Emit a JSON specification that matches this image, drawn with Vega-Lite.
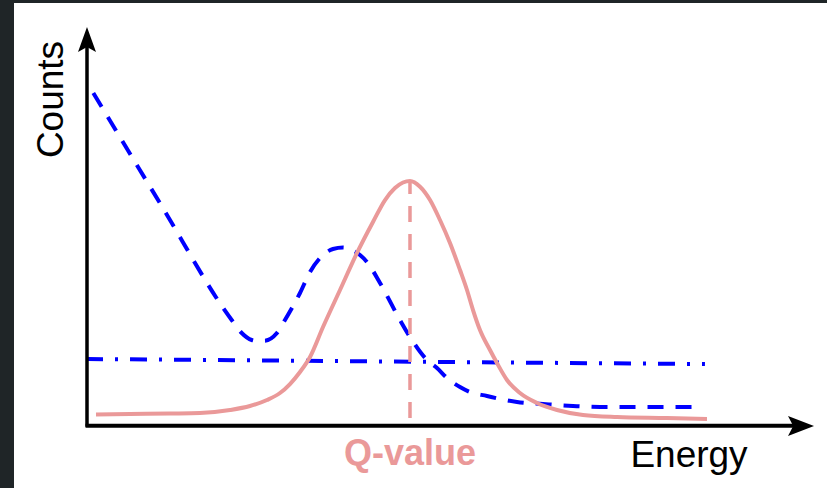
{
  "$schema": "https://vega.github.io/schema/vega-lite/v6.json",
  "width": 827,
  "height": 488,
  "autosize": {"type": "fit", "contains": "padding"},
  "padding": {"left": 14, "top": 3, "right": 0, "bottom": 0},
  "background": "#1f2527",
  "config": {"view": {"stroke": null, "fill": "white"}},
  "datasets": {
    "signal": [
      {"energy": 1.24, "counts": 2.64}, {"energy": 5.92, "counts": 2.76}, {"energy": 11.43, "counts": 2.89},
      {"energy": 15.56, "counts": 3.02}, {"energy": 19.7, "counts": 3.77}, {"energy": 22.45, "counts": 4.77},
      {"energy": 24.79, "counts": 6.28}, {"energy": 26.58, "counts": 8.04}, {"energy": 27.96, "counts": 10.3},
      {"energy": 29.34, "counts": 13.32}, {"energy": 30.72, "counts": 17.09}, {"energy": 32.51, "counts": 24.62},
      {"energy": 34.85, "counts": 33.92}, {"energy": 37.19, "counts": 43.22}, {"energy": 39.39, "counts": 51.01},
      {"energy": 41.05, "counts": 56.53}, {"energy": 42.42, "counts": 59.55}, {"energy": 43.53, "counts": 60.93},
      {"energy": 44.49, "counts": 61.31}, {"energy": 45.87, "counts": 59.87}, {"energy": 47.25, "counts": 56.53},
      {"energy": 48.62, "counts": 51.51}, {"energy": 50.0, "counts": 45.73}, {"energy": 51.38, "counts": 38.94},
      {"energy": 52.34, "counts": 33.92}, {"energy": 53.17, "counts": 28.89}, {"energy": 54.13, "counts": 23.87},
      {"energy": 55.51, "counts": 18.84}, {"energy": 56.47, "counts": 15.58}, {"energy": 57.85, "counts": 11.31},
      {"energy": 59.64, "counts": 8.04}, {"energy": 61.98, "counts": 5.53}, {"energy": 64.74, "counts": 3.77},
      {"energy": 68.32, "counts": 2.51}, {"energy": 73.0, "counts": 2.01}, {"energy": 79.89, "counts": 1.76},
      {"energy": 85.4, "counts": 1.51}
    ],
    "background": [
      {"energy": 0.87, "counts": 83.42}, {"energy": 10.0, "counts": 55.9}, {"energy": 19.93, "counts": 26.38},
      {"energy": 21.31, "counts": 23.12}, {"energy": 22.69, "counts": 21.36}, {"energy": 23.55, "counts": 21.11},
      {"energy": 24.52, "counts": 21.18}, {"energy": 26.13, "counts": 23.04}, {"energy": 27.27, "counts": 26.38},
      {"energy": 29.34, "counts": 33.17}, {"energy": 30.72, "counts": 38.44}, {"energy": 32.51, "counts": 42.71},
      {"energy": 33.88, "counts": 44.22}, {"energy": 35.26, "counts": 44.6}, {"energy": 36.5, "counts": 43.97},
      {"energy": 37.6, "counts": 42.71}, {"energy": 38.57, "counts": 40.95}, {"energy": 40.36, "counts": 35.68},
      {"energy": 43.11, "counts": 26.38}, {"energy": 44.49, "counts": 22.11}, {"energy": 46.83, "counts": 16.33},
      {"energy": 48.21, "counts": 14.32}, {"energy": 49.59, "counts": 11.81}, {"energy": 51.38, "counts": 9.55},
      {"energy": 52.75, "counts": 8.29}, {"energy": 55.1, "counts": 7.29}, {"energy": 56.89, "counts": 6.53},
      {"energy": 59.23, "counts": 5.78}, {"energy": 62.81, "counts": 5.28}, {"energy": 66.94, "counts": 4.77},
      {"energy": 70.66, "counts": 4.52}, {"energy": 75.21, "counts": 4.52}, {"energy": 83.75, "counts": 4.52}
    ],
    "flat": [
      {"energy": 0.14, "counts": 16.58}, {"energy": 85.12, "counts": 15.3}
    ],
    "qvalue": [
      {"energy": 44.49, "counts": 1.76, "counts_end": 61.31}
    ],
    "yaxis": [
      {"energy": 0, "counts": -0.43, "counts_end": 95.5}
    ],
    "xaxis": [
      {"energy": -0.2, "energy_end": 97.5, "counts": -0.2}
    ],
    "yarrow": [{"energy": 0, "counts": 96.86}],
    "xarrow": [{"energy": 98.35, "counts": -0.25}],
    "titles": [
      {"energy": -3.37, "counts": 81.78, "label": "Counts", "angle": 270},
      {"energy": 82.92, "counts": -10.48, "label": "Energy", "angle": 0}
    ],
    "qlabel": [{"energy": 44.49, "counts": -10.05, "label": "Q-value"}]
  },
  "encoding": {
    "x": {"field": "energy", "type": "quantitative", "axis": null,
          "scale": {"domain": [-10.055, 101.93], "nice": false, "zero": false}},
    "y": {"field": "counts", "type": "quantitative", "axis": null,
          "scale": {"domain": [-15.829, 106.03], "nice": false, "zero": false}}
  },
  "layer": [
    {
      "data": {"name": "flat"},
      "mark": {"type": "line", "color": "#0000ff", "strokeWidth": 4, "strokeDash": [17, 12, 3, 12], "strokeDashOffset": 2, "strokeCap": "butt"}
    },
    {
      "data": {"name": "background"},
      "mark": {"type": "line", "color": "#0000ff", "strokeWidth": 4, "strokeDash": [16, 12], "strokeCap": "butt", "interpolate": "monotone"}
    },
    {
      "data": {"name": "qvalue"},
      "mark": {"type": "rule", "color": "#ea9999", "strokeWidth": 3.5, "strokeDash": [16, 12], "strokeCap": "butt"},
      "encoding": {"y2": {"field": "counts_end"}}
    },
    {
      "data": {"name": "signal"},
      "mark": {"type": "line", "color": "#ea9999", "strokeWidth": 4, "interpolate": "monotone"}
    },
    {
      "data": {"name": "yaxis"},
      "mark": {"type": "rule", "color": "black", "strokeWidth": 3.5},
      "encoding": {"y2": {"field": "counts_end"}}
    },
    {
      "data": {"name": "xaxis"},
      "mark": {"type": "rule", "color": "black", "strokeWidth": 4},
      "encoding": {"x2": {"field": "energy_end"}}
    },
    {
      "data": {"name": "yarrow"},
      "mark": {"type": "point", "shape": "M0,-1L0.72,1L0,0.6L-0.72,1Z", "size": 625, "filled": true, "color": "black", "opacity": 1, "strokeWidth": 0}
    },
    {
      "data": {"name": "xarrow"},
      "mark": {"type": "point", "shape": "M1,0L-1,0.77L-0.6,0L-1,-0.77Z", "size": 676, "filled": true, "color": "black", "opacity": 1, "strokeWidth": 0}
    },
    {
      "data": {"name": "titles"},
      "mark": {"type": "text", "font": "Liberation Sans", "fontSize": 37, "color": "black", "align": "center", "baseline": "alphabetic"},
      "encoding": {"text": {"field": "label"}, "angle": {"field": "angle", "type": "quantitative", "scale": null}}
    },
    {
      "data": {"name": "qlabel"},
      "mark": {"type": "text", "font": "Liberation Sans", "fontSize": 36, "fontWeight": "bold", "color": "#ea9999", "align": "center", "baseline": "alphabetic"},
      "encoding": {"text": {"field": "label"}}
    }
  ]
}
